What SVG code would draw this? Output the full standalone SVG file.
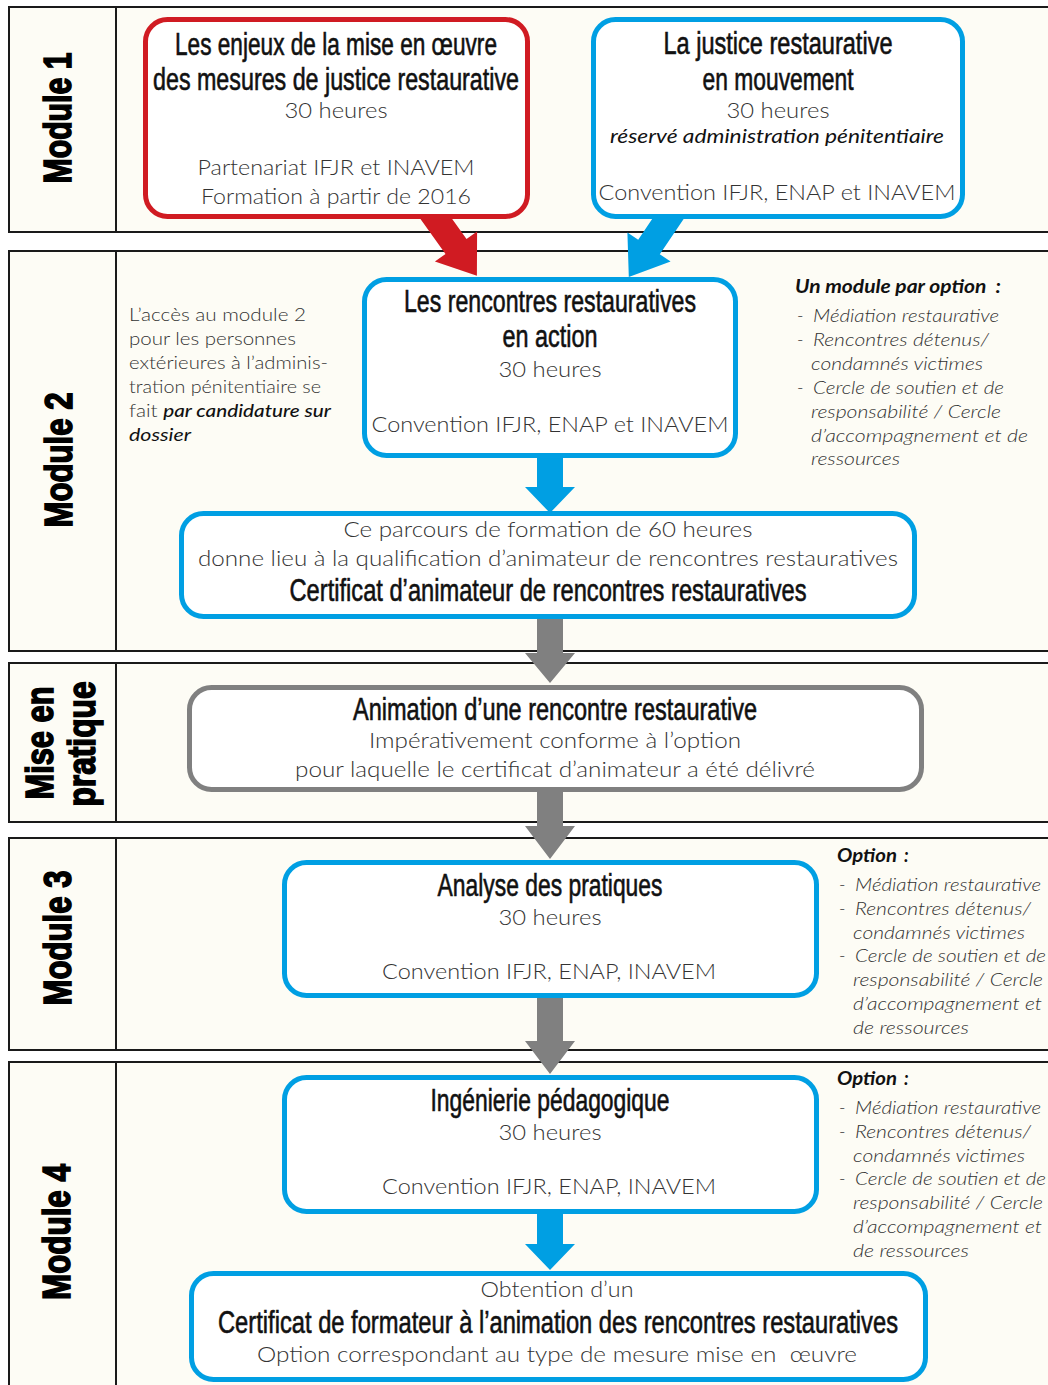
<svg xmlns="http://www.w3.org/2000/svg" width="1048" height="1385" viewBox="0 0 1048 1385">
<style>
.row{fill:#FDFCF5;stroke:#1a1a1a;stroke-width:2}
.div{stroke:#1a1a1a;stroke-width:2}
.box{fill:#fff;stroke-width:5}
.red{stroke:#D01B22}
.blue{stroke:#009FE3}
.gray{stroke:#808080}
.mod{font-family:"Liberation Sans",Arial,sans-serif;font-weight:bold;font-size:38px;fill:#000;stroke:#000;stroke-width:1.6;text-anchor:middle}
.t{font-family:"Liberation Sans Narrow","Liberation Sans",sans-serif;font-size:31px;fill:#111;stroke:#111;stroke-width:0.6;text-anchor:middle}
.b{font-family:Lato,"Open Sans",sans-serif;font-weight:300;font-size:22px;fill:#333;text-anchor:middle}
.bi{font-family:Lato,"Open Sans",sans-serif;font-style:italic;font-weight:400;font-size:20px;fill:#111;text-anchor:middle}
.n{font-family:Lato,"Open Sans",sans-serif;font-weight:300;font-size:17.5px;fill:#333}
.ni{font-family:Lato,"Open Sans",sans-serif;font-weight:300;font-style:italic;font-size:17.5px;fill:#333}
.nb{font-family:Lato,"Open Sans",sans-serif;font-weight:400;font-style:italic;font-size:17.5px;fill:#111}
.nh{font-family:Lato,"Open Sans",sans-serif;font-weight:700;font-style:italic;font-size:18px;fill:#111}
</style>
<rect x="0" y="0" width="1048" height="1385" fill="#fff"/>
<g id="rows">
<rect class="row" x="9" y="7" width="1060" height="225"/>
<line class="div" x1="116" y1="7" x2="116" y2="232"/>
<rect class="row" x="9" y="251" width="1060" height="400"/>
<line class="div" x1="116" y1="251" x2="116" y2="651"/>
<rect class="row" x="9" y="663" width="1060" height="159"/>
<line class="div" x1="116" y1="663" x2="116" y2="822"/>
<rect class="row" x="9" y="838" width="1060" height="212"/>
<line class="div" x1="116" y1="838" x2="116" y2="1050"/>
<rect class="row" x="9" y="1062" width="1060" height="340"/>
<line class="div" x1="116" y1="1062" x2="116" y2="1402"/>
</g>
<g id="row-labels">
<text class="mod" transform="translate(71,118) rotate(-90)" textLength="131" lengthAdjust="spacingAndGlyphs">Module 1</text>
<text class="mod" transform="translate(72,460) rotate(-90)" textLength="135" lengthAdjust="spacingAndGlyphs">Module 2</text>
<text class="mod" transform="translate(53,743) rotate(-90)" textLength="113" lengthAdjust="spacingAndGlyphs">Mise en</text>
<text class="mod" transform="translate(95,744) rotate(-90)" textLength="125" lengthAdjust="spacingAndGlyphs">pratique</text>
<text class="mod" transform="translate(71,938) rotate(-90)" textLength="135" lengthAdjust="spacingAndGlyphs">Module 3</text>
<text class="mod" transform="translate(70,1232) rotate(-90)" textLength="136" lengthAdjust="spacingAndGlyphs">Module 4</text>
</g>
<g id="connectors">
<polygon fill="#D01B22" points="440.4,202.5 466.5,239 477.1,231.4 476.9,275.7 434.9,261.6 445.5,254 419.4,217.5"/>
<polygon fill="#009FE3" points="685,216.9 659.8,254.3 670.6,261.6 628.8,276.9 627.4,232.4 638.2,239.7 663.4,202.3"/>
<polygon fill="#009FE3" points="537,455 563,455 563,487 575,487 550,513 525,487 537,487"/>
<polygon fill="#808080" points="537,615 563,615 563,653 575,653 550,683 525,653 537,653"/>
<polygon fill="#808080" points="537,790 563,790 563,826 575,826 550,859 525,826 537,826"/>
<polygon fill="#808080" points="537,996 563,996 563,1041 575,1041 550,1074 525,1041 537,1041"/>
<polygon fill="#009FE3" points="537,1212 563,1212 563,1244 575,1244 550,1270 525,1244 537,1244"/>
</g>
<g id="node-m1a">
<rect class="box red" x="145.5" y="19.5" width="382" height="197" rx="22"/>
<text class="t" x="336" y="55" textLength="322" lengthAdjust="spacingAndGlyphs">Les enjeux de la mise en œuvre</text>
<text class="t" x="336" y="90" textLength="366" lengthAdjust="spacingAndGlyphs">des mesures de justice restaurative</text>
<text class="b" x="336" y="118" textLength="103" lengthAdjust="spacingAndGlyphs">30 heures</text>
<text class="b" x="336" y="175" textLength="277" lengthAdjust="spacingAndGlyphs">Partenariat IFJR et INAVEM</text>
<text class="b" x="336" y="204" textLength="270" lengthAdjust="spacingAndGlyphs">Formation à partir de 2016</text>
</g>
<g id="node-m1b">
<rect class="box blue" x="593.5" y="19.5" width="369" height="197" rx="22"/>
<text class="t" x="778" y="54" textLength="229" lengthAdjust="spacingAndGlyphs">La justice restaurative</text>
<text class="t" x="778" y="90" textLength="151" lengthAdjust="spacingAndGlyphs">en mouvement</text>
<text class="b" x="778" y="118" textLength="103" lengthAdjust="spacingAndGlyphs">30 heures</text>
<text class="bi" x="777" y="143" textLength="334" lengthAdjust="spacingAndGlyphs">réservé administration pénitentiaire</text>
<text class="b" x="777" y="200" textLength="357" lengthAdjust="spacingAndGlyphs">Convention IFJR, ENAP et INAVEM</text>
</g>
<g id="note-m2-left">
<text class="n" x="129" y="321" textLength="177" lengthAdjust="spacingAndGlyphs">L’accès au module 2</text>
<text class="n" x="129" y="345" textLength="167" lengthAdjust="spacingAndGlyphs">pour les personnes</text>
<text class="n" x="129" y="369" textLength="199" lengthAdjust="spacingAndGlyphs">extérieures à l’adminis-</text>
<text class="n" x="129" y="393" textLength="192" lengthAdjust="spacingAndGlyphs">tration pénitentiaire se</text>
<text class="n" x="129" y="417" textLength="202" lengthAdjust="spacingAndGlyphs">fait <tspan font-style="italic" font-weight="500" fill="#111">par candidature sur</tspan></text>
<text class="nb" x="129" y="441" textLength="62" lengthAdjust="spacingAndGlyphs">dossier</text>
</g>
<g id="node-m2">
<rect class="box blue" x="364.5" y="279.5" width="371" height="176" rx="22"/>
<text class="t" x="550" y="312" textLength="292" lengthAdjust="spacingAndGlyphs">Les rencontres restauratives</text>
<text class="t" x="550" y="347" textLength="95" lengthAdjust="spacingAndGlyphs">en action</text>
<text class="b" x="550" y="377" textLength="103" lengthAdjust="spacingAndGlyphs">30 heures</text>
<text class="b" x="550" y="432" textLength="357" lengthAdjust="spacingAndGlyphs">Convention IFJR, ENAP et INAVEM</text>
</g>
<g id="note-m2-right">
<text class="nh" x="795" y="293" textLength="206" lengthAdjust="spacingAndGlyphs" xml:space="preserve">Un module par option  :</text>
<text class="n" x="797" y="322">-</text><text class="ni" x="813" y="322" textLength="186" lengthAdjust="spacingAndGlyphs">Médiation restaurative</text>
<text class="n" x="797" y="346">-</text><text class="ni" x="813" y="346" textLength="176" lengthAdjust="spacingAndGlyphs">Rencontres détenus/</text>
<text class="ni" x="811" y="370" textLength="172" lengthAdjust="spacingAndGlyphs">condamnés victimes</text>
<text class="n" x="797" y="394">-</text><text class="ni" x="813" y="394" textLength="191" lengthAdjust="spacingAndGlyphs">Cercle de soutien et de</text>
<text class="ni" x="811" y="418" textLength="190" lengthAdjust="spacingAndGlyphs">responsabilité / Cercle</text>
<text class="ni" x="811" y="442" textLength="217" lengthAdjust="spacingAndGlyphs">d’accompagnement et de</text>
<text class="ni" x="811" y="465" textLength="89" lengthAdjust="spacingAndGlyphs">ressources</text>
</g>
<g id="node-cert">
<rect class="box blue" x="181.5" y="513.5" width="733" height="103" rx="22"/>
<text class="b" x="548" y="537" textLength="409" lengthAdjust="spacingAndGlyphs">Ce parcours de formation de 60 heures</text>
<text class="b" x="548" y="566" textLength="700" lengthAdjust="spacingAndGlyphs">donne lieu à la qualification d’animateur de rencontres restauratives</text>
<text class="t" x="548" y="601" textLength="517" lengthAdjust="spacingAndGlyphs">Certificat d’animateur de rencontres restauratives</text>
</g>
<g id="node-pratique">
<rect class="box gray" x="189.5" y="687.5" width="732" height="102" rx="22"/>
<text class="t" x="555" y="720" textLength="404" lengthAdjust="spacingAndGlyphs">Animation d’une rencontre restaurative</text>
<text class="b" x="555" y="748" textLength="372" lengthAdjust="spacingAndGlyphs">Impérativement conforme à l’option</text>
<text class="b" x="555" y="777" textLength="520" lengthAdjust="spacingAndGlyphs">pour laquelle le certificat d’animateur a été délivré</text>
</g>
<g id="node-m3">
<rect class="box blue" x="284.5" y="862.5" width="532" height="133" rx="22"/>
<text class="t" x="550" y="896" textLength="225" lengthAdjust="spacingAndGlyphs">Analyse des pratiques</text>
<text class="b" x="550" y="925" textLength="103" lengthAdjust="spacingAndGlyphs">30 heures</text>
<text class="b" x="549" y="979" textLength="334" lengthAdjust="spacingAndGlyphs">Convention IFJR, ENAP, INAVEM</text>
</g>
<g id="note-m3">
<text class="nh" x="837" y="862" textLength="60" lengthAdjust="spacingAndGlyphs">Option</text><text class="nh" x="904" y="862">:</text>
<text class="n" x="839" y="891">-</text><text class="ni" x="855" y="891" textLength="186" lengthAdjust="spacingAndGlyphs">Médiation restaurative</text>
<text class="n" x="839" y="915">-</text><text class="ni" x="855" y="915" textLength="176" lengthAdjust="spacingAndGlyphs">Rencontres détenus/</text>
<text class="ni" x="853" y="939" textLength="172" lengthAdjust="spacingAndGlyphs">condamnés victimes</text>
<text class="n" x="839" y="962">-</text><text class="ni" x="855" y="962" textLength="191" lengthAdjust="spacingAndGlyphs">Cercle de soutien et de</text>
<text class="ni" x="853" y="986" textLength="190" lengthAdjust="spacingAndGlyphs">responsabilité / Cercle</text>
<text class="ni" x="853" y="1010" textLength="189" lengthAdjust="spacingAndGlyphs">d’accompagnement et</text>
<text class="ni" x="853" y="1034" textLength="116" lengthAdjust="spacingAndGlyphs">de ressources</text>
</g>
<g id="node-m4">
<rect class="box blue" x="284.5" y="1077.5" width="532" height="134" rx="22"/>
<text class="t" x="550" y="1111" textLength="239" lengthAdjust="spacingAndGlyphs">Ingénierie pédagogique</text>
<text class="b" x="550" y="1140" textLength="103" lengthAdjust="spacingAndGlyphs">30 heures</text>
<text class="b" x="549" y="1194" textLength="334" lengthAdjust="spacingAndGlyphs">Convention IFJR, ENAP, INAVEM</text>
</g>
<g id="note-m4">
<text class="nh" x="837" y="1085" textLength="60" lengthAdjust="spacingAndGlyphs">Option</text><text class="nh" x="904" y="1085">:</text>
<text class="n" x="839" y="1114">-</text><text class="ni" x="855" y="1114" textLength="186" lengthAdjust="spacingAndGlyphs">Médiation restaurative</text>
<text class="n" x="839" y="1138">-</text><text class="ni" x="855" y="1138" textLength="176" lengthAdjust="spacingAndGlyphs">Rencontres détenus/</text>
<text class="ni" x="853" y="1162" textLength="172" lengthAdjust="spacingAndGlyphs">condamnés victimes</text>
<text class="n" x="839" y="1185">-</text><text class="ni" x="855" y="1185" textLength="191" lengthAdjust="spacingAndGlyphs">Cercle de soutien et de</text>
<text class="ni" x="853" y="1209" textLength="190" lengthAdjust="spacingAndGlyphs">responsabilité / Cercle</text>
<text class="ni" x="853" y="1233" textLength="189" lengthAdjust="spacingAndGlyphs">d’accompagnement et</text>
<text class="ni" x="853" y="1257" textLength="116" lengthAdjust="spacingAndGlyphs">de ressources</text>
</g>
<g id="node-final">
<rect class="box blue" x="191.5" y="1273.5" width="734" height="106" rx="22"/>
<text class="b" x="557" y="1297" textLength="153" lengthAdjust="spacingAndGlyphs">Obtention d’un</text>
<text class="t" x="558" y="1333" textLength="680" lengthAdjust="spacingAndGlyphs">Certificat de formateur à l’animation des rencontres restauratives</text>
<text class="b" x="557" y="1362" textLength="600" lengthAdjust="spacingAndGlyphs" xml:space="preserve">Option correspondant au type de mesure mise en  œuvre</text>
</g>
</svg>
